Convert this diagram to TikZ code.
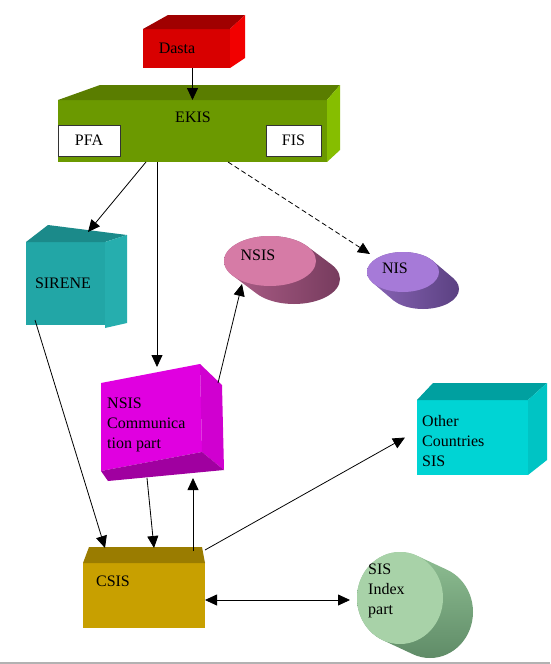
\documentclass[tikz,border=0pt]{standalone}
\usepackage{fontspec}
\setmainfont{Liberation Serif}
\usetikzlibrary{arrows.meta,calc}
\definecolor{dastaF}{HTML}{D80000}
\definecolor{dastaT}{HTML}{A00000}
\definecolor{dastaR}{HTML}{F20000}
\definecolor{ekisF}{HTML}{6B9900}
\definecolor{ekisT}{HTML}{5A7D00}
\definecolor{ekisR}{HTML}{86BE00}
\definecolor{sirF}{HTML}{22A6A6}
\definecolor{sirT}{HTML}{1B8A8A}
\definecolor{sirR}{HTML}{26AEAE}
\definecolor{comF}{HTML}{E000E0}
\definecolor{comR}{HTML}{D000D0}
\definecolor{comB}{HTML}{A000A0}
\definecolor{othF}{HTML}{00D4D4}
\definecolor{othT}{HTML}{00A0A0}
\definecolor{othR}{HTML}{00C4C4}
\definecolor{csisF}{HTML}{C8A000}
\definecolor{csisT}{HTML}{9A7C00}
\definecolor{nsisT}{HTML}{D67BA6}
\definecolor{nsisB}{HTML}{B0608A}
\definecolor{nsisD}{HTML}{743A5C}
\definecolor{nisT}{HTML}{A67AD8}
\definecolor{nisB}{HTML}{8A66B8}
\definecolor{nisD}{HTML}{5A4080}
\definecolor{sisT}{HTML}{A8D2A8}
\definecolor{sisB}{HTML}{90C094}
\definecolor{sisD}{HTML}{5E8A66}
\begin{document}
\begin{tikzpicture}[x=1pt,y=-1pt,
  face/.style={draw=none, inner sep=0pt, outer sep=0pt, rectangle},
  lbl/.style={font=\fontsize{16}{20}\selectfont, inner sep=0pt, align=left},
  wbox/.style={draw=black!80, line width=1pt, fill=white, inner sep=0pt, outer sep=0pt, font=\fontsize{16}{20}\selectfont},
  arr/.style={-{Triangle[length=12pt,width=11pt]}, line width=0.8pt},
  darr/.style={{Triangle[length=12pt,width=11pt]}-{Triangle[length=12pt,width=11pt]}, line width=0.8pt},
]
\useasboundingbox (0,0) rectangle (550,664);
\fill[white] (0,0) rectangle (550,664);
\draw[gray!60, line width=1.6pt] (0,663) -- (550,663);

% Dasta
\node[face, fill=dastaF, minimum width=87pt, minimum height=39pt] (dasta) at (186.5,48.5) {};
\fill[dastaT] (dasta.north west) -- ++(25,-14) -- ++(77,0) -- (dasta.north east) -- cycle;
\fill[dastaR] (dasta.north east) -- ++(15,-14) -- ++(0,43) -- (dasta.south east) -- cycle;
\node[lbl] (dastaL) at (177,48) {Dasta};

% EKIS
\node[face, fill=ekisF, minimum width=269pt, minimum height=62pt] (ekis) at (192.5,131) {};
\fill[ekisT] (ekis.north west) -- ++(42,-15) -- ++(240,0) -- (ekis.north east) -- cycle;
\fill[ekisR] (ekis.north east) -- ++(13,-15) -- ++(0,65) -- (ekis.south east) -- cycle;
\node[lbl] (ekisL) at (193,117) {EKIS};
\node[wbox, minimum width=62pt, minimum height=31pt] (pfa) at (89,140.5) {PFA};
\node[wbox, minimum width=55pt, minimum height=31pt] (fis) at (293.5,140.5) {FIS};

% SIRENE
\node[face, fill=sirF, minimum width=79pt, minimum height=83pt] (sirene) at (65.5,283.5) {};
\fill[sirT] (sirene.north west) -- ++(22,-17) -- ++(79,10) -- (sirene.north east) -- cycle;
\fill[sirR] (sirene.north east) -- ++(22,-7) -- ++(0,88) -- ++(-22,5) -- cycle;
\node[lbl] (sireneL) at (63,283) {SIRENE};

% NSIS cylinder
\coordinate (nsis) at (270,261);
\begin{scope}
  \clip \foreach \t in {0,...,20} { ($(nsis)+(\t*1.2,\t*0.9)$) ellipse [x radius=46pt, y radius=25pt] };
  \shade[left color=nsisB, right color=nsisD] (220,233) rectangle (345,310);
\end{scope}
\fill[nsisT] (nsis) ellipse [x radius=46pt, y radius=25pt];
\node[lbl] (nsisL) at (258,255) {NSIS};

% NIS cylinder
\coordinate (nis) at (403,272);
\begin{scope}
  \clip \foreach \t in {0,...,20} { ($(nis)+(\t*1.0,\t*0.85)$) ellipse [x radius=36pt, y radius=20pt] };
  \shade[left color=nisB, right color=nisD] (365,250) rectangle (462,312);
\end{scope}
\fill[nisT] (nis) ellipse [x radius=36pt, y radius=20pt];
\node[lbl] (nisL) at (395,268) {NIS};

% NSIS Communication part
\node[face, minimum width=122pt, minimum height=123pt] (comm) at (162,425) {};
\fill[comF] (101,383) -- (200,364) -- (202,452) -- (101,471) -- cycle;
\fill[comR] (200,364) -- (222,385) -- (224,470) -- (202,452) -- cycle;
\fill[comB] (101,471) -- (202,452) -- (224,470) -- (108,481) -- cycle;
\node[lbl, anchor=west] (commL) at (107,425) {NSIS\\Communica\\tion part};

% Other Countries SIS
\node[face, fill=othF, minimum width=111pt, minimum height=75pt] (other) at (472.5,437.5) {};
\fill[othT] (other.north west) -- ++(16,-17) -- ++(114,0) -- (other.north east) -- cycle;
\fill[othR] (other.north east) -- ++(19,-17) -- ++(0,77) -- (other.south east) -- cycle;
\node[lbl, anchor=west] (otherL) at (422,441) {Other\\Countries\\SIS};

% CSIS
\node[face, fill=csisF, minimum width=122pt, minimum height=65pt] (csis) at (144,595.5) {};
\fill[csisT] (csis.north west) -- ++(6,-16) -- ++(113,0) -- (csis.north east) -- cycle;
\node[lbl] (csisL) at (113,581) {CSIS};

% SIS Index part cylinder
\coordinate (sisidx) at (400,598);
\begin{scope}
  \clip \foreach \t in {0,...,20} { ($(sisidx)+(\t*1.5,\t*0.7)$) ellipse [x radius=43pt, y radius=46pt] };
  \shade[top color=sisB, bottom color=sisD] (355,550) rectangle (478,662);
\end{scope}
\fill[sisT] (sisidx) ellipse [x radius=43pt, y radius=46pt];
\node[lbl, anchor=west] (sisL) at (368,591) {SIS\\Index\\part};

% connectors
\draw[arr] (ekis.north |- dasta.south) -- (ekis.north);
\draw[arr] ([xshift=-46.5pt]ekis.south) -- ([shift={(22.5,-51.5)}]sirene.center);
\draw[arr] ([xshift=-35.5pt]ekis.south) -- ([shift={(-5,-58)}]comm.center);
\draw[arr, dash pattern=on 5pt off 3pt] ([xshift=35.5pt]ekis.south) -- ([shift={(-33,-18)}]nis);
\draw[arr] ([shift={(-30.5,36.5)}]sirene.center) -- ([shift={(-39,-47.5)}]csis.center);
\draw[arr] ([shift={(56,-42)}]comm.center) -- ([shift={(-28,23)}]nsis);
\draw[arr] ([shift={(-15,53)}]comm.center) -- ([shift={(10,-47.5)}]csis.center);
\draw[arr] ([shift={(49,-44.5)}]csis.center) -- ([shift={(31,53)}]comm.center);
\draw[arr] ([shift={(61,-45.5)}]csis.center) -- ([xshift=-12pt]other.west);
\draw[darr] ([yshift=-4.5pt]csis.east) -- ([shift={(-50,2)}]sisidx);
\end{tikzpicture}
\end{document}
